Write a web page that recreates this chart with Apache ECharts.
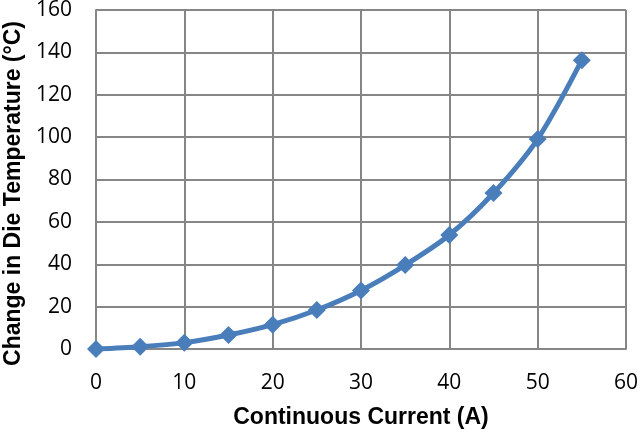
<!DOCTYPE html>
<html><head><meta charset="utf-8">
<script src="https://cdn.jsdelivr.net/npm/echarts@6/dist/echarts.min.js"></script>
<style>html,body{margin:0;padding:0;background:#fff}#c{width:640px;height:432px}</style>
</head><body><div id="c"></div>
<script>
const currents = [0, 5, 10, 15, 20, 25, 30, 35, 40, 45, 50, 55];
const tempRise = [0, 1.1, 3, 6.6, 11.5, 18.4, 27.6, 39.6, 53.8, 73.6, 99.1, 136.3];
const xTitle = 'Continuous Current (A)';
const yTitle = 'Change in Die Temperature (°C)';

const chart = echarts.init(document.getElementById('c'), null, {renderer: 'canvas'});
const labelFont = {fontFamily: 'Open Sans', fontSize: 21, color: '#000'};
const titleFont = {fontFamily: 'Liberation Sans', fontWeight: 'bold', fontSize: 23, color: '#000'};
chart.setOption({
  animation: false,
  grid: {left: 96, top: 10, width: 530, height: 339, show: false, containLabel: false, outerBoundsMode: 'none'},
  xAxis: {
    type: 'value', min: 0, max: 60, interval: 10,
    name: xTitle, nameLocation: 'middle', nameGap: 57,
    nameTextStyle: titleFont,
    axisLine: {show: true, lineStyle: {color: '#868686', width: 2}},
    axisTick: {show: false},
    axisLabel: Object.assign({margin: 24}, labelFont),
    splitLine: {show: true, lineStyle: {color: '#868686', width: 2}}
  },
  yAxis: {
    type: 'value', min: 0, max: 160, interval: 20,
    name: yTitle, nameLocation: 'middle', nameGap: 71,
    nameTextStyle: Object.assign({padding: [0, 28, 0, 0]}, titleFont),
    axisLine: {show: true, lineStyle: {color: '#868686', width: 2}},
    axisTick: {show: false},
    axisLabel: Object.assign({margin: 24}, labelFont),
    splitLine: {show: true, lineStyle: {color: '#868686', width: 2}}
  },
  series: [{
    type: 'line', smooth: 0.3,
    data: currents.map((c, i) => [c, tempRise[i]]),
    symbol: 'diamond', symbolSize: 18,
    lineStyle: {color: '#4a7ebb', width: 5},
    itemStyle: {color: '#4a7ebb'}
  }]
});
</script></body></html>
